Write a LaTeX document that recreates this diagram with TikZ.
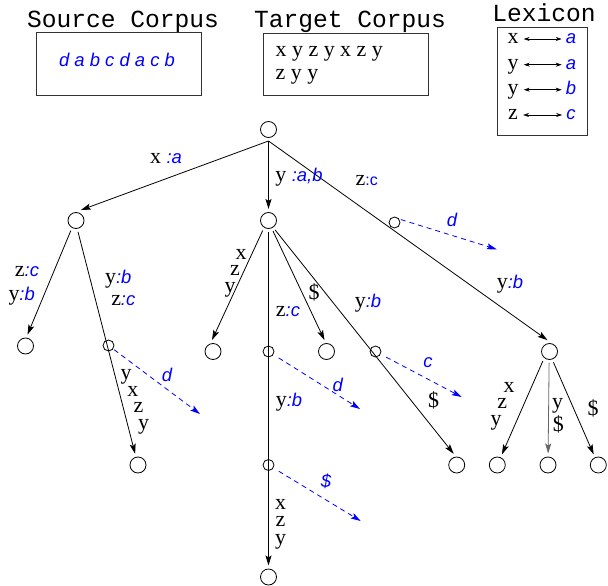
\documentclass[tikz,border=0pt]{standalone}
\usepackage{fontspec}
\setmainfont{Liberation Serif}
\newfontfamily\sansf{Liberation Sans}
\newfontfamily\monof{Liberation Mono}
\usetikzlibrary{arrows.meta}
\definecolor{lblue}{RGB}{0,0,255}
\newcommand\bs[1]{{\color{lblue}\sansf\itshape\fontsize{18.5}{18.5}\selectfont #1}}
\newcommand\bu[1]{{\color{lblue}\sansf\fontsize{16}{16}\selectfont #1}}
\begin{document}
\begin{tikzpicture}[x=1bp,y=-1bp,
  big/.style={circle,draw,line width=0.8bp,minimum size=16bp,inner sep=0pt,outer sep=3.5bp},
  small/.style={circle,draw,line width=0.8bp,minimum size=11bp,inner sep=0pt,outer sep=1.5bp},
  edge/.style={line width=0.8bp},
  arr/.style={edge,-{Stealth[length=10bp,width=6bp,inset=2bp]}},
  darr/.style={lblue,line width=0.8bp,dash pattern=on 5bp off 4bp,-{Stealth[length=10bp,width=6bp,inset=2bp]}},
  lab/.style={inner sep=0pt,font=\fontsize{22}{22}\selectfont},
  stack/.style={inner sep=0pt,align=left,anchor=north west,font=\fontsize{22}{#1}\selectfont},
  tit/.style={inner sep=0pt,anchor=base,font=\monof\fontsize{24.7}{24.7}\selectfont},
  box/.style={draw=black!80,line width=0.9bp,inner sep=0pt},
  lexl/.style={lab,inner xsep=5bp,inner ysep=0pt,text height=10bp,text depth=0pt,anchor=base},
  lexb/.style={inner xsep=4bp,inner ysep=0pt,text height=10bp,text depth=0pt,anchor=base},
  lexarr/.style={line width=0.6bp,{Stealth[length=6bp,width=4bp]}-{Stealth[length=6bp,width=4bp]}}]

\useasboundingbox (0,0) rectangle (608,586);

% titles
\node[tit] (tsrc) at (123,27.3) {Source Corpus};
\node[tit] (ttgt) at (350,27.3) {Target Corpus};
\node[tit] (tlex) at (544,21.7) {Lexicon};

% boxes
\node[box,minimum width=164.4bp,minimum height=62.6bp] (bsrc) at (119,64) {};
\node[box,minimum width=164.7bp,minimum height=62.3bp] (btgt) at (346,64.2) {};
\node[box,minimum width=90.3bp,minimum height=107.7bp] (blex) at (542.2,81.2) {};

\node[inner sep=0pt,anchor=base] (srctext) at (117,66.7) {\bs{d a b c d a c b}};
\node[lab,anchor=base west] (tgt1) at (275.5,56.7) {x y z y x z y};
\node[lab,anchor=base west] (tgt2) at (275.5,79.3) {z y y};

% lexicon
\foreach \ch/\bch/\yy [count=\i] in {x/a/44, y/a/69.7, y/b/94.7, z/c/120} {
  \node[lexl] (lx\i) at (513,\yy) {\ch};
  \node[lexb] (la\i) at (571,\yy) {\bs{\bch}};
  \draw[lexarr] (lx\i) -- (la\i);
}

% tree nodes
\node[big] (R) at (268.5,129.5) {};
\node[big] (L) at (76,220.5) {};
\node[big] (M) at (268.5,220.5) {};
\node[big] (RC) at (549.5,351.5) {};
\node[big] (LL) at (25.5,346) {};
\node[big] (LR) at (138,465) {};
\node[big] (M1) at (213,351.5) {};
\node[big] (M2) at (326.5,351.5) {};
\node[big] (M3) at (456.7,465) {};
\node[big] (M5) at (268.5,577) {};
\node[big] (RC1) at (497.3,465) {};
\node[big] (RC2) at (548,465) {};
\node[big] (RC3) at (598.3,465) {};

\node[small] (S1) at (394.5,222.5) {};
\node[small] (S2) at (108.5,345.5) {};
\node[small] (S3) at (268.5,351.5) {};
\node[small] (S4) at (268.5,465) {};
\node[small] (S5) at (375.5,351.5) {};

% edges
\draw[arr] (R.south) -- (L.65);
\draw[arr] (R.south) -- (M);
\draw[arr] (R.south) -- (RC.100);
\draw[arr] (L.243) -- (LL.80);
\draw[arr] (L.280) -- (LR);
\draw[arr] (M.240) -- (M1.95);
\draw[arr] (M.south) -- (M5);
\draw[arr] (M.293) -- (M2.100);
\draw[arr] (M.305) -- (M3.105);
\draw[arr] (RC.235) -- (RC1);
\draw[arr,black!60] (RC.268) -- (RC2);
\draw[arr] (RC.290) -- (RC3);

% dashed arrows
\coordinate (d1) at (496.7,249.3);
\coordinate (d2) at (200,414);
\coordinate (d3) at (360,409);
\coordinate (d4) at (360.7,521);
\coordinate (d5) at (461.7,397);
\draw[darr] (S1.25) -- (d1);
\draw[darr] (S2) -- (d2);
\draw[darr,shorten <=5bp] (S3) -- (d3);
\draw[darr,shorten <=5bp] (S4) -- (d4);
\draw[darr,shorten <=5bp] (S5) -- (d5);

% labels
\node[lab] (lxa) at (166,159) {x \bs{:a}};
\node[lab] (lyab) at (299,177) {y \bs{:a,b}};
\node[lab] (lzc) at (366.7,181) {z\bu{:c}};
\node[lab] (lyb1) at (510,284) {y\bs{:b}};
\node[inner sep=0pt] (ld1) at (452,220) {\bs{d}};

\node[lab] (lzc1) at (27,271.5) {z\bs{:c}};
\node[lab] (lyb2) at (21.7,296) {y\bs{:b}};
\node[lab] (lyb3) at (118.3,279) {y\bs{:b}};
\node[lab] (lzc2) at (123.3,300.5) {z\bs{:c}};
\node[inner sep=0pt] (ld2) at (167,374.5) {\bs{d}};
\node[stack=16.7] (lrstack) at (120.5,369.2) {y\\\hspace*{6.7bp}x\\\hspace*{12.9bp}z\\\hspace*{17.3bp}y};

\node[stack=16.8] (m1stack) at (224.5,248.9) {\hspace*{10.8bp}x\\\hspace*{5.3bp}z\\y};
\node[lab] (lzc3) at (288,311.7) {z\bs{:c}};
\node[lab] (ldol1) at (314,292.5) {\$};
\node[lab] (lyb4) at (368,303) {y\bs{:b}};
\node[lab] (lyb5) at (289,402) {y\bs{:b}};
\node[inner sep=0pt] (ld3) at (337.7,385) {\bs{d}};
\node[inner sep=0pt] (lc) at (428,363) {\bs{c}};
\node[lab] (ldol2) at (433.5,400) {\$};
\node[inner sep=0pt] (ldol3) at (326,481.7) {\bs{\$}};
\node[stack=17.5,align=center,anchor=north] (m5stack) at (280.5,498.9) {x\\z\\y};

\node[stack=16.5] (rcstack) at (490.5,381.9) {\hspace*{13bp}x\\\hspace*{6.6bp}z\\y};
\node[lab] (lrc4) at (557.7,405.5) {y};
\node[lab] (lrc5) at (558.3,424) {\$};
\node[lab] (lrc6) at (593,408) {\$};

\end{tikzpicture}
\end{document}
